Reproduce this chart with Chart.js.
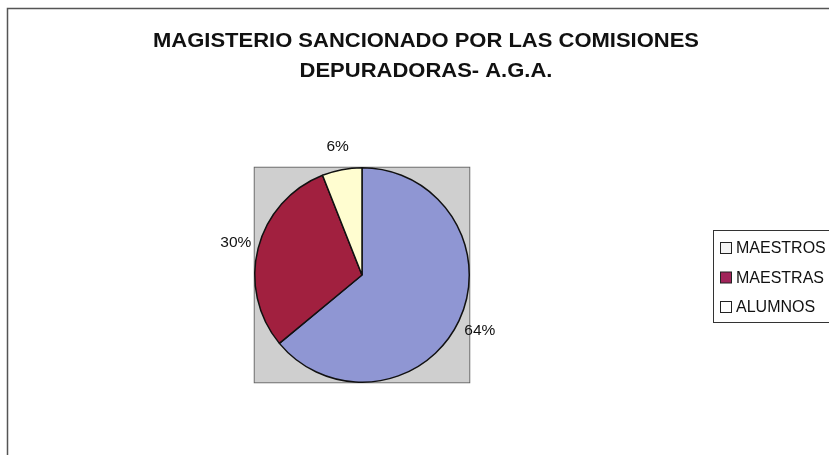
<!DOCTYPE html>
<html>
<head>
<meta charset="utf-8">
<script src="https://cdn.jsdelivr.net/npm/chart.js@4/dist/chart.umd.min.js"></script>
<style>
  html, body { margin: 0; padding: 0; background: #fff; }
  #wrap { width: 829px; height: 455px; }
</style>
</head>
<body>
<div id="wrap"><canvas id="chart"></canvas></div>
<script>
const categories = ['MAESTROS', 'MAESTRAS', 'ALUMNOS'];
const shares = [64, 30, 6];
const sliceColors = ['#8F96D3', '#A1203F', '#FFFDD0'];
const legendColors = ['#F4F4F4', '#A1245A', '#FFFFFF'];
const titleLines = ['MAGISTERIO SANCIONADO POR LAS COMISIONES', 'DEPURADORAS- A.G.A.'];

// text stretched or squeezed sideways to a set width factor
function wideText(ctx, text, x, y, sx) {
    ctx.save();
    ctx.translate(x, y);
    ctx.scale(sx, 1);
    ctx.fillText(text, 0, 0);
    ctx.restore();
}

// frame, gray plot square, title and legend are drawn around the pie
const decor = {
    id: 'decor',
    beforeDatasetsDraw(chart) {
        const ctx = chart.ctx;
        const arc = chart.getDatasetMeta(0).data[0];
        const r = arc.outerRadius;
        ctx.save();
        ctx.fillStyle = '#CFCFCF';
        ctx.fillRect(arc.x - r, arc.y - r, 2 * r, 2 * r);
        ctx.strokeStyle = '#666';
        ctx.lineWidth = 1;
        ctx.strokeRect(arc.x - r - 0.5, arc.y - r - 0.5, 2 * r + 1, 2 * r + 1);
        ctx.restore();
    },
    afterDraw(chart) {
        const ctx = chart.ctx;
        ctx.save();
        // outer frame
        ctx.strokeStyle = '#555';
        ctx.lineWidth = 1.5;
        ctx.beginPath();
        ctx.moveTo(7.5, 455);
        ctx.lineTo(7.5, 8.5);
        ctx.lineTo(829, 8.5);
        ctx.stroke();

        // title
        ctx.fillStyle = '#111';
        ctx.textAlign = 'center';
        ctx.textBaseline = 'middle';
        ctx.font = 'bold 20.5px "Liberation Sans Narrow", "Liberation Sans", Arial, sans-serif';
        const sx = 546 / ctx.measureText(titleLines[0]).width;
        wideText(ctx, titleLines[0], 426, 41, sx);
        wideText(ctx, titleLines[1], 426, 71, sx);

        // percentage labels outside the slices
        const meta = chart.getDatasetMeta(0);
        const total = shares.reduce((a, b) => a + b, 0);
        ctx.font = '15.5px "Liberation Sans", Arial, sans-serif';
        meta.data.forEach((arc, i) => {
            const mid = (arc.startAngle + arc.endAngle) / 2;
            const rr = arc.outerRadius + 23;
            const x = arc.x + Math.cos(mid) * rr;
            const y = arc.y + Math.sin(mid) * rr;
            ctx.fillText(Math.round(shares[i] / total * 100) + '%', x, y);
        });

        // legend
        ctx.strokeStyle = '#333';
        ctx.lineWidth = 1;
        ctx.strokeRect(713.5, 230.5, 130, 92);
        ctx.textAlign = 'left';
        ctx.font = '16px "Liberation Sans", Arial, sans-serif';
        categories.forEach((name, i) => {
            const y = 248 + i * 29.5;
            ctx.fillStyle = legendColors[i];
            ctx.fillRect(720.5, y - 5.5, 11, 11);
            ctx.strokeStyle = '#222';
            ctx.strokeRect(720.5, y - 5.5, 11, 11);
            ctx.fillStyle = '#111';
            ctx.fillText(name, 736, y + 1);
        });
        ctx.restore();
    }
};

new Chart(document.getElementById('chart'), {
    type: 'pie',
    data: {
        labels: categories,
        datasets: [{
            data: shares,
            backgroundColor: sliceColors,
            borderColor: '#111',
            borderWidth: 1.5
        }]
    },
    options: {
        responsive: true,
        maintainAspectRatio: false,
        animation: false,
        layout: { padding: { left: 254, right: 359, top: 167, bottom: 72 } },
        plugins: {
            legend: { display: false },
            title: { display: false },
            tooltip: { enabled: false }
        }
    },
    plugins: [decor]
});
</script>
</body>
</html>
